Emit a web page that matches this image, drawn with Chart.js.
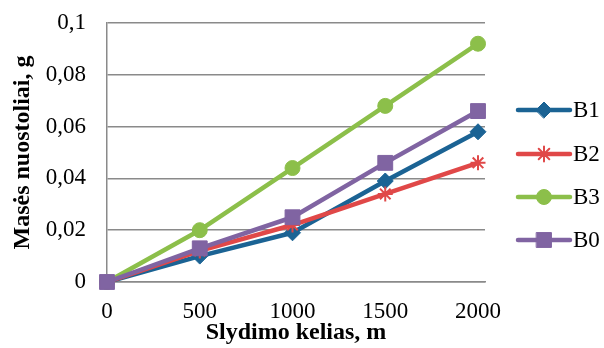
<!DOCTYPE html>
<html>
<head>
<meta charset="utf-8">
<script src="https://cdn.jsdelivr.net/npm/chart.js@4.4.1/dist/chart.umd.min.js"></script>
<style>
html,body{margin:0;padding:0;background:#fff;}
#wrap{width:604px;height:348px;position:relative;}
</style>
</head>
<body>
<div id="wrap"><canvas id="c" width="604" height="348"></canvas></div>
<script>
const distances = [0, 500, 1000, 1500, 2000];
const seriesNames = ['B1', 'B2', 'B3', 'B0'];
const B1 = [0, 0.010, 0.019, 0.039, 0.058];
const B2 = [0, 0.012, 0.022, 0.034, 0.046];
const B3 = [0, 0.020, 0.044, 0.068, 0.092];
const B0 = [0, 0.013, 0.025, 0.046, 0.066];
const yTicks = [0, 0.02, 0.04, 0.06, 0.08, 0.1];
const xTicks = [0, 500, 1000, 1500, 2000];
const xTitle = 'Slydimo kelias, m';
const yTitle = 'Masės nuostoliai, g';

const FONT = "'Liberation Serif', 'Times New Roman', serif";
const colors = { B1: '#1b6394', B2: '#e04848', B3: '#8cbf4a', B0: '#8064a2' };
const styles = {
  B1: { pointStyle: 'rectRot', r: 8 },
  B2: { pointStyle: 'star', r: 7.5 },
  B3: { pointStyle: 'circle', r: 7.5 },
  B0: { pointStyle: 'rect', r: 10.5 }
};
const values = { B1, B2, B3, B0 };
const orders = { B1: 4, B2: 3, B3: 2, B0: 1 };

const datasets = seriesNames.map(n => ({
  label: n,
  data: distances.map((x, i) => ({ x: x, y: values[n][i] })),
  borderColor: colors[n],
  backgroundColor: colors[n],
  borderWidth: 4.5,
  pointStyle: styles[n].pointStyle,
  pointRadius: styles[n].r,
  pointBorderWidth: n === 'B2' ? 2 : 1,
  pointBorderColor: colors[n],
  pointBackgroundColor: colors[n],
  tension: 0,
  order: orders[n],
  clip: false,
  borderCapStyle: 'round',
  borderJoinStyle: 'round'
}));

const legendPlugin = {
  id: 'customLegend',
  afterDraw(chart) {
    const ctx = chart.ctx;
    const ys = [110, 154, 197, 240];
    chart.data.datasets.forEach((ds, i) => {
      const y = ys[i];
      ctx.save();
      ctx.strokeStyle = ds.borderColor;
      ctx.lineWidth = 4.5;
      ctx.lineCap = 'round';
      ctx.beginPath();
      ctx.moveTo(518, y);
      ctx.lineTo(570, y);
      ctx.stroke();
      ctx.fillStyle = ds.pointBackgroundColor;
      ctx.strokeStyle = ds.pointBorderColor;
      ctx.lineWidth = ds.pointBorderWidth;
      Chart.helpers.drawPoint(ctx, {
        pointStyle: ds.pointStyle,
        radius: ds.pointRadius,
        borderWidth: ds.pointBorderWidth,
        rotation: 0
      }, 544, y);
      ctx.fillStyle = '#000';
      ctx.font = '23px ' + FONT;
      ctx.textBaseline = 'middle';
      ctx.textAlign = 'left';
      ctx.fillText(ds.label, 573, y + 1);
      ctx.restore();
    });
  }
};

const fmt = v => {
  const r = Math.round(v * 100) / 100;
  return r === 0 ? '0' : String(r).replace('.', ',');
};

new Chart(document.getElementById('c'), {
  type: 'line',
  data: { datasets },
  plugins: [legendPlugin],
  options: {
    responsive: false,
    animation: false,
    devicePixelRatio: 1,
    layout: { padding: { top: 23, right: 119, bottom: 0, left: 0 } },
    plugins: { legend: { display: false }, tooltip: { enabled: false } },
    scales: {
      x: {
        type: 'linear',
        min: 0,
        max: 2037.7,
        afterBuildTicks: s => { s.ticks = xTicks.map(v => ({ value: v })); },
        afterFit: s => { s.height = 66; s.paddingLeft = 0; s.paddingRight = 0; },
        grid: { display: false, drawTicks: false },
        border: { display: true, color: '#8a8a8a', width: 1.5 },
        ticks: {
          padding: 16,
          color: '#000',
          font: { family: FONT, size: 23 },
          maxRotation: 0,
          callback: v => String(v)
        },
        title: {
          display: true,
          text: xTitle,
          color: '#000',
          font: { family: FONT, size: 24, weight: 'bold' },
          padding: { top: 0, bottom: 1 }
        }
      },
      y: {
        min: 0,
        max: 0.1,
        afterBuildTicks: s => { s.ticks = yTicks.map(v => ({ value: v })); },
        afterFit: s => { s.width = 107; s.paddingTop = 0; s.paddingBottom = 0; },
        grid: { color: '#8a8a8a', lineWidth: 1.5, drawTicks: false },
        border: { display: true, color: '#8a8a8a', width: 1.5 },
        ticks: {
          padding: 21,
          color: '#000',
          font: { family: FONT, size: 23 },
          callback: v => fmt(v)
        },
        title: {
          display: true,
          text: yTitle,
          color: '#000',
          font: { family: FONT, size: 24, weight: 'bold' },
          padding: { top: 8, bottom: 0 }
        }
      }
    }
  }
});
</script>
</body>
</html>
